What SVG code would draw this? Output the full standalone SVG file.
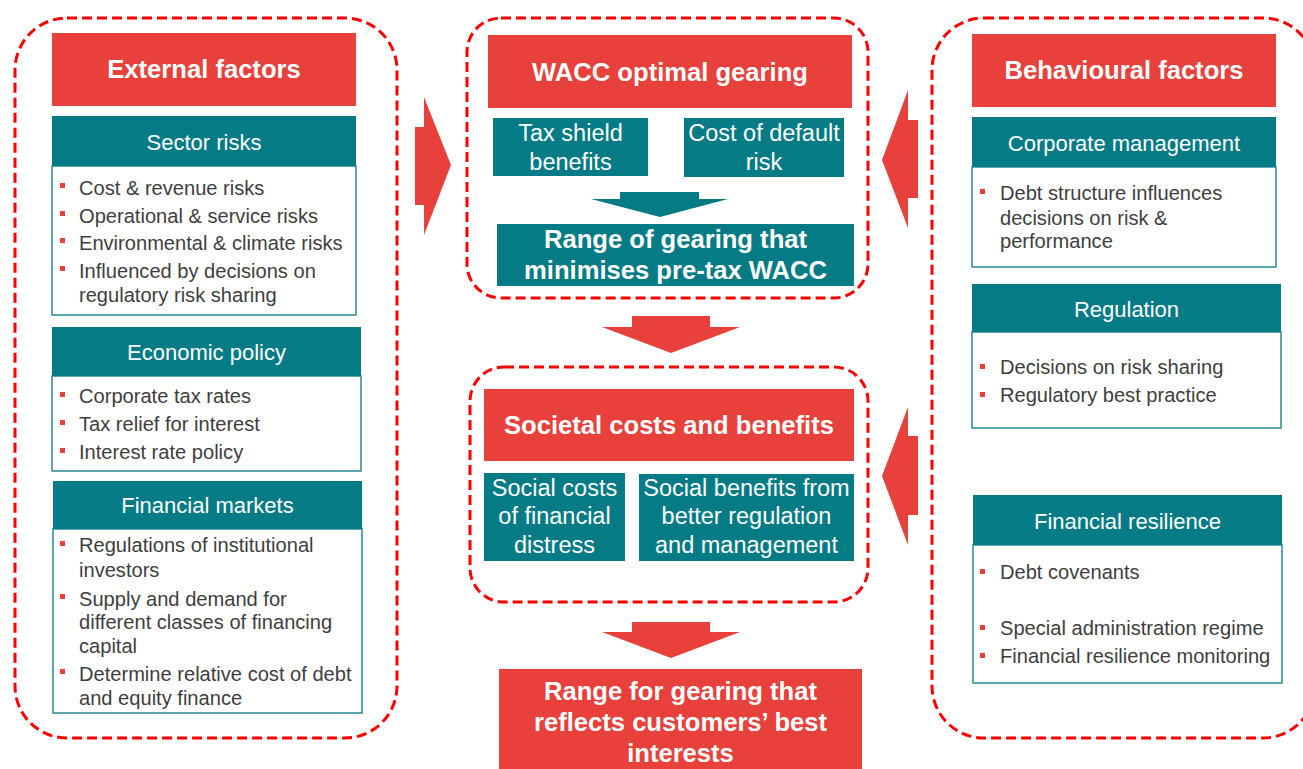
<svg xmlns="http://www.w3.org/2000/svg" width="1303" height="769" viewBox="0 0 1303 769">
  <style>
    .frame { fill: none; stroke: #FF0000; stroke-width: 3; stroke-dasharray: 10 5; }
    .red { fill: #E8403A; }
    .teal { fill: #047B85; }
    .body { fill: #FFFFFF; stroke: #2A8A93; stroke-width: 1.5; }
    .arrow { fill: #E8403A; }
    .tarrow { fill: #047B85; }
    .title { font-family: "Liberation Sans", Arial, sans-serif; font-weight: bold; font-size: 25.6px; fill: #FFFFFF; text-anchor: middle; }
    .head { font-family: "Liberation Sans", Arial, sans-serif; font-size: 22px; fill: #FFFFFF; text-anchor: middle; }
    .sub { font-family: "Liberation Sans", Arial, sans-serif; font-size: 23.5px; fill: #FFFFFF; text-anchor: middle; }
    .item { font-family: "Liberation Sans", Arial, sans-serif; font-size: 20.1px; fill: #3E3E3E; }
    .dot { fill: #E8403A; }
  </style>

  <!-- dashed grouping frames -->
  <g id="frames">
    <rect class="frame" x="15" y="18" width="382" height="720" rx="52"/>
    <rect class="frame" x="467" y="18" width="401" height="280" rx="34"/>
    <rect class="frame" x="470" y="367" width="398" height="235" rx="34"/>
    <rect class="frame" x="932" y="18" width="383" height="720" rx="52"/>
  </g>

  <!-- flow arrows -->
  <g id="connectors">
    <polygon class="arrow" points="415,127 424,127 424,97 451,165 424,235 424,205 415,205"/>
    <polygon class="arrow" points="918,120 908,120 908,90 882,160 908,228 908,198 918,198"/>
    <polygon class="arrow" points="918,436 908,436 908,407 882,476 908,545 908,515 918,515"/>
    <polygon class="arrow" points="632,316 710,316 710,327 740,327 671,353 602,327 632,327"/>
    <polygon class="arrow" points="632,622 710,622 710,632 740,632 671,658 602,632 632,632"/>
    <polygon class="tarrow" points="620,192 699,192 699,199 728,199 660,217 591,199 620,199"/>
  </g>

  <!-- left column -->
  <g id="external-factors">
    <rect class="red" x="52" y="33" width="304" height="73"/>
    <text class="title" x="204" y="78">External factors</text>
  </g>

  <g id="sector-risks">
    <rect class="body" x="52" y="166" width="304" height="149"/>
    <rect class="teal" x="52" y="116" width="304" height="50"/>
    <text class="head" x="204" y="150">Sector risks</text>
    <rect class="dot" x="60" y="183" width="5" height="5"/>
    <rect class="dot" x="60" y="211" width="5" height="5"/>
    <rect class="dot" x="60" y="238" width="5" height="5"/>
    <rect class="dot" x="60" y="266" width="5" height="5"/>
    <text class="item" x="79" y="195">Cost &amp; revenue risks</text>
    <text class="item" x="79" y="223">Operational &amp; service risks</text>
    <text class="item" x="79" y="250">Environmental &amp; climate risks</text>
    <text class="item" x="79" y="278">Influenced by decisions on</text>
    <text class="item" x="79" y="302">regulatory risk sharing</text>
  </g>

  <g id="economic-policy">
    <rect class="body" x="52" y="376" width="309" height="95"/>
    <rect class="teal" x="52" y="327" width="309" height="49"/>
    <text class="head" x="206.5" y="360">Economic policy</text>
    <rect class="dot" x="60" y="392" width="5" height="5"/>
    <rect class="dot" x="60" y="420" width="5" height="5"/>
    <rect class="dot" x="60" y="448" width="5" height="5"/>
    <text class="item" x="79" y="403">Corporate tax rates</text>
    <text class="item" x="79" y="431">Tax relief for interest</text>
    <text class="item" x="79" y="459">Interest rate policy</text>
  </g>

  <g id="financial-markets">
    <rect class="body" x="53" y="529" width="309" height="184"/>
    <rect class="teal" x="53" y="481" width="309" height="48"/>
    <text class="head" x="207.5" y="513">Financial markets</text>
    <rect class="dot" x="60" y="541" width="5" height="5"/>
    <rect class="dot" x="60" y="594" width="5" height="5"/>
    <rect class="dot" x="60" y="669" width="5" height="5"/>
    <text class="item" x="79" y="552">Regulations of institutional</text>
    <text class="item" x="79" y="577">investors</text>
    <text class="item" x="79" y="606">Supply and demand for</text>
    <text class="item" x="79" y="629">different classes of financing</text>
    <text class="item" x="79" y="653">capital</text>
    <text class="item" x="79" y="681">Determine relative cost of debt</text>
    <text class="item" x="79" y="705">and equity finance</text>
  </g>

  <!-- centre column -->
  <g id="wacc-optimal-gearing">
    <rect class="red" x="488" y="35" width="364" height="73"/>
    <text class="title" x="670" y="81">WACC optimal gearing</text>
  </g>

  <g id="tax-shield">
    <rect class="teal" x="493" y="118" width="155" height="58"/>
    <text class="sub" x="570.5" y="141">Tax shield</text>
    <text class="sub" x="570.5" y="170">benefits</text>
  </g>

  <g id="cost-of-default">
    <rect class="teal" x="684" y="118" width="160" height="59"/>
    <text class="sub" x="764" y="141">Cost of default</text>
    <text class="sub" x="764" y="170">risk</text>
  </g>

  <g id="gearing-range-wacc">
    <rect class="teal" x="497" y="224" width="357" height="62"/>
    <text class="title" x="675.5" y="248">Range of gearing that</text>
    <text class="title" x="675.5" y="279">minimises pre-tax WACC</text>
  </g>

  <g id="societal-costs-benefits">
    <rect class="red" x="484" y="389" width="370" height="72"/>
    <text class="title" x="669" y="434">Societal costs and benefits</text>
  </g>

  <g id="social-costs">
    <rect class="teal" x="484" y="473" width="141" height="88"/>
    <text class="sub" x="554.5" y="496">Social costs</text>
    <text class="sub" x="554.5" y="524">of financial</text>
    <text class="sub" x="554.5" y="553">distress</text>
  </g>

  <g id="social-benefits">
    <rect class="teal" x="639" y="474" width="215" height="87"/>
    <text class="sub" x="746.5" y="496">Social benefits from</text>
    <text class="sub" x="746.5" y="524">better regulation</text>
    <text class="sub" x="746.5" y="553">and management</text>
  </g>

  <g id="customers-best-interests">
    <rect class="red" x="499" y="669" width="363" height="104"/>
    <text class="title" x="680.5" y="700">Range for gearing that</text>
    <text class="title" x="680.5" y="731">reflects customers’ best</text>
    <text class="title" x="680.5" y="762">interests</text>
  </g>

  <!-- right column -->
  <g id="behavioural-factors">
    <rect class="red" x="972" y="34" width="304" height="73"/>
    <text class="title" x="1124" y="79">Behavioural factors</text>
  </g>

  <g id="corporate-management">
    <rect class="body" x="972" y="167" width="304" height="100"/>
    <rect class="teal" x="972" y="117" width="304" height="50"/>
    <text class="head" x="1124" y="151">Corporate management</text>
    <rect class="dot" x="980" y="189" width="5" height="5"/>
    <text class="item" x="1000" y="200">Debt structure influences</text>
    <text class="item" x="1000" y="225">decisions on risk &amp;</text>
    <text class="item" x="1000" y="248">performance</text>
  </g>

  <g id="regulation">
    <rect class="body" x="972" y="332" width="309" height="96"/>
    <rect class="teal" x="972" y="284" width="309" height="48"/>
    <text class="head" x="1126.5" y="317">Regulation</text>
    <rect class="dot" x="980" y="364" width="5" height="5"/>
    <rect class="dot" x="980" y="392" width="5" height="5"/>
    <text class="item" x="1000" y="374">Decisions on risk sharing</text>
    <text class="item" x="1000" y="402">Regulatory best practice</text>
  </g>

  <g id="financial-resilience">
    <rect class="body" x="973" y="545" width="309" height="138"/>
    <rect class="teal" x="973" y="495" width="309" height="50"/>
    <text class="head" x="1127.5" y="529">Financial resilience</text>
    <rect class="dot" x="980" y="569" width="5" height="5"/>
    <rect class="dot" x="980" y="625" width="5" height="5"/>
    <rect class="dot" x="980" y="653" width="5" height="5"/>
    <text class="item" x="1000" y="579">Debt covenants</text>
    <text class="item" x="1000" y="635">Special administration regime</text>
    <text class="item" x="1000" y="663">Financial resilience monitoring</text>
  </g>
</svg>
